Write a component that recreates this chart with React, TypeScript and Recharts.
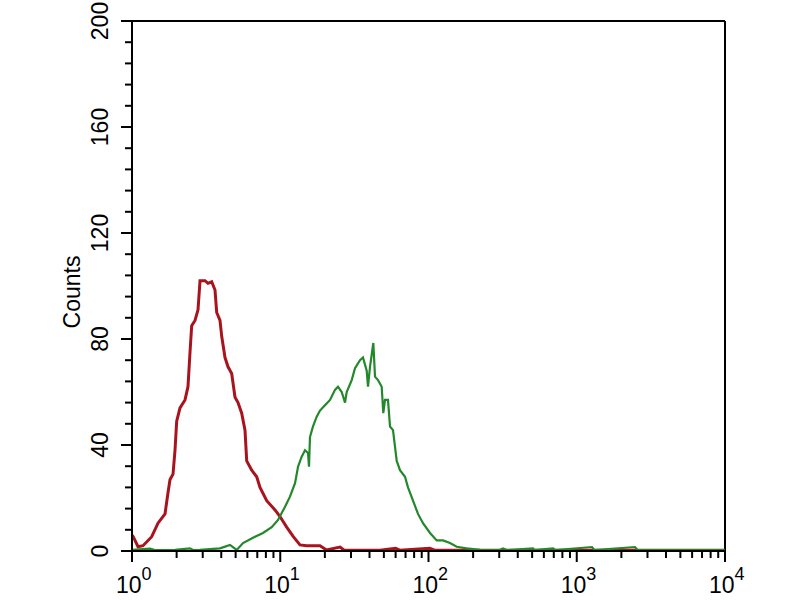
import React from 'react';
import {Line, LineChart, ReferenceLine, XAxis, YAxis} from 'recharts';

interface IPoint {
  x: number;
  count: number;
}

// fluorescence intensity (log axis) vs counts
const isotypeX = [1.0, 1.02, 1.098, 1.186, 1.358, 1.497, 1.67, 1.749, 1.805, 1.891, 1.95, 2.002, 2.108, 2.278,
  2.386, 2.462, 2.527, 2.661, 2.788, 2.876, 3.108, 3.256, 3.449, 3.63, 3.727, 3.923, 4.028, 4.24, 4.443, 4.704,
  4.953, 5.188, 5.495, 5.784, 5.939, 6.418, 6.937, 7.302, 8.103, 9.218, 9.961, 11.05, 12.25, 13.59, 15.08, 18.54,
  20.5, 25.3, 27.0, 47.0, 60.0, 64.0, 102.0, 110.0, 10000];
const isotypeCounts = [6, 5.4, 1.6, 2, 5.4, 10.5, 14, 22, 27, 29, 38, 49, 54, 57,
  62, 75, 85, 87, 91, 102, 102, 101, 101.6, 98.5, 90, 87, 81, 73, 69.5, 67,
  58, 56, 52, 45.6, 34, 30.5, 28, 24, 19, 15.5, 13, 9, 5.4, 2.3, 2, 2,
  0.4, 1.5, 0.3, 0.3, 1, 0.3, 1, 0.3, 0.3];

const sampleX = [1.0, 1.323, 1.45, 1.95, 2.462, 2.6, 2.876, 3.923, 4.581, 5.085, 5.609, 6.55, 7.648, 8.756, 9.656,
  10.77, 11.63, 12.58, 13.18, 13.95, 14.69, 15.39, 15.63, 15.87, 16.63, 17.62, 18.54, 20.04, 21.66, 23.4,
  24.52, 25.97, 27.35, 28.07, 30.34, 31.94, 34.51, 36.15, 38.3, 39.08, 40.31, 42.44, 43.57, 45.65, 48.34,
  49.56, 50.88, 53.3, 55.0, 57.63, 61.04, 64.24, 69.42, 72.73, 78.62, 84.97, 91.82, 102.4, 113.6, 125.3,
  139.6, 155.0, 181.0, 222.6, 300, 318, 340, 507, 520, 692, 720, 1267, 1320, 2471, 2580, 10000];
const sampleCounts = [0.4, 0.9, 0.3, 0.4, 1, 0.3, 0.4, 1, 2.3, 0.4, 3, 5, 6.8, 9, 11.7,
  16.7, 20.5, 25.6, 31.8, 35.6, 38, 37, 31.8, 43, 47, 50.7, 53, 55, 57, 60.8,
  62, 60, 56, 60, 64.5, 69, 72, 73, 68, 62, 69.5, 78.5, 65.8, 64.5, 62,
  52, 57, 57, 47, 45.6, 34, 30.5, 28, 24, 19, 14, 10.5, 6.8, 4, 4,
  3, 1.6, 1, 0.4, 0.3, 1, 0.3, 1, 0.3, 1, 0.3, 1.5, 0.3, 1.5, 0.3, 0.3];

const xTicks = [1, 2, 3, 4, 5, 6, 7, 8, 9, 10, 20, 30, 40, 50, 60, 70, 80, 90, 100, 200, 300, 400, 500, 600, 700,
  800, 900, 1000, 2000, 3000, 4000, 5000, 6000, 7000, 8000, 9000, 10000];
const xLabels: { [key: number]: string } = {1: '0', 10: '1', 100: '2', 1000: '3', 10000: '4'};
const yTicks = [0, 8, 16, 24, 32, 40, 48, 56, 64, 72, 80, 88, 96, 104, 112, 120, 128, 136, 144, 152, 160, 168,
  176, 184, 192, 200];
const yLabels = [0, 40, 80, 120, 160, 200];

const toPoints = (xs: number[], counts: number[]): IPoint[] => xs.map((x, i) => ({x, count: counts[i]}));

const FONT = '"Liberation Sans", Arial, sans-serif';

const XTick = (props: any) => {
  const {x, y, payload} = props;
  const label = xLabels[payload.value];
  return (
    <g>
      <line x1={x} x2={x} y1={y} y2={y + (label ? 11 : 7)} stroke="#000" strokeWidth={2}/>
      {label && <text x={x - 16} y={y + 42} fontFamily={FONT} fill="#000">
        <tspan fontSize={23}>10</tspan>
        <tspan fontSize={18} dy={-13}>{label}</tspan>
      </text>}
    </g>
  );
};

const YTick = (props: any) => {
  const {x, y, payload} = props;
  const major = yLabels.includes(payload.value);
  return (
    <g>
      <line x1={x - (major ? 11 : 7)} x2={x} y1={y} y2={y} stroke="#000" strokeWidth={2}/>
      {major && <text
        x={x - 24}
        y={y}
        transform={`rotate(-90, ${x - 24}, ${y})`}
        textAnchor="middle"
        fontFamily={FONT}
        fontSize={23}
        fill="#000"
      >{payload.value}</text>}
    </g>
  );
};

const CountsLabel = () => (
  <text x={80} y={292} transform="rotate(-90, 80, 292)" textAnchor="middle" fontFamily={FONT} fontSize={23}
        fill="#000">Counts</text>
);

const App = () => {
  const isotype = toPoints(isotypeX, isotypeCounts);
  const sample = toPoints(sampleX, sampleCounts);

  return (
    <div style={{position: 'absolute', left: 0, top: 0, width: 800, height: 600, background: '#fff'}}>
      <LineChart width={800} height={600} margin={{top: 21, right: 75, bottom: 0, left: 0}}>
        <XAxis
          dataKey="x"
          type="number"
          scale="log"
          domain={[1, 10000]}
          ticks={xTicks}
          interval={0}
          allowDataOverflow
          height={49}
          tickSize={0}
          tickMargin={0}
          tickLine={false}
          axisLine={{stroke: '#000', strokeWidth: 2}}
          tick={<XTick/>}
        />
        <YAxis
          dataKey="count"
          type="number"
          domain={[0, 200]}
          ticks={yTicks}
          interval={0}
          allowDataOverflow
          width={132}
          tickSize={0}
          tickMargin={0}
          tickLine={false}
          axisLine={{stroke: '#000', strokeWidth: 2}}
          tick={<YTick/>}
          label={<CountsLabel/>}
        />
        <ReferenceLine y={200} stroke="#000" strokeWidth={2}/>
        <ReferenceLine x={10000} stroke="#000" strokeWidth={2}/>
        <Line
          data={isotype}
          dataKey="count"
          type="linear"
          stroke="#a8141e"
          strokeWidth={3}
          dot={false}
          isAnimationActive={false}
        />
        <Line
          data={sample}
          dataKey="count"
          type="linear"
          stroke="#23882b"
          strokeWidth={2.2}
          dot={false}
          isAnimationActive={false}
        />
      </LineChart>
    </div>
  );
};

export default App;
